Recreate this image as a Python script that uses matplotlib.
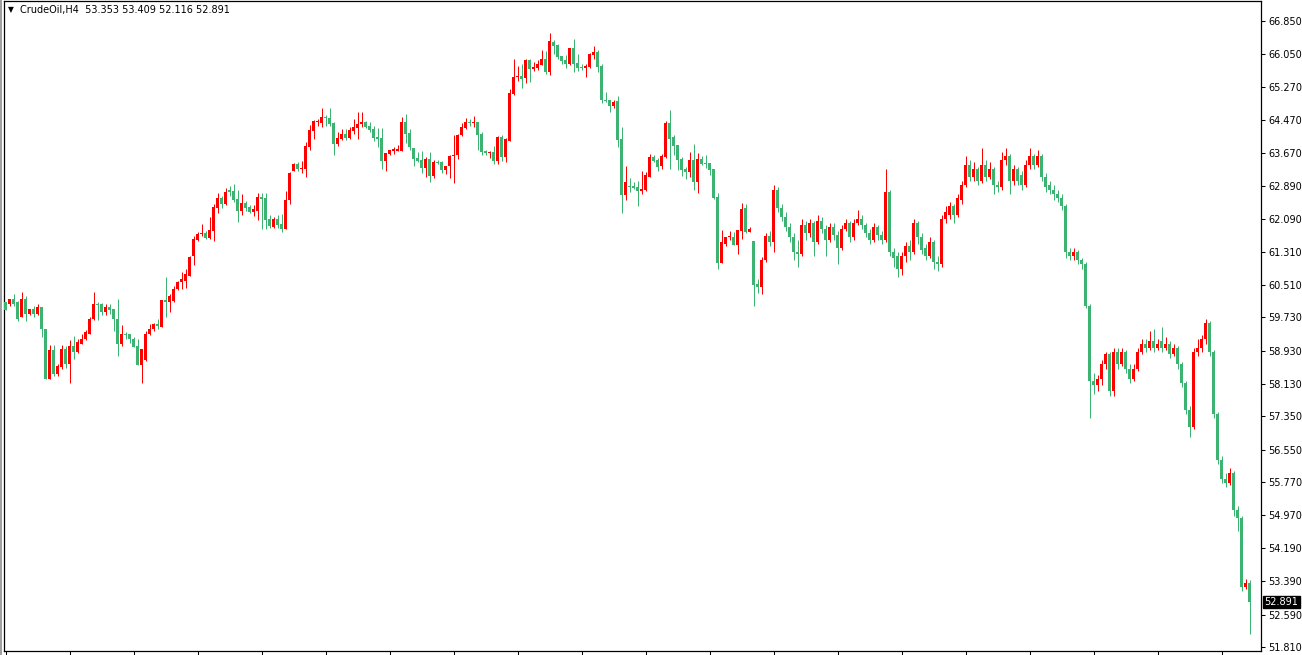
import numpy as np
import matplotlib.pyplot as plt
from matplotlib.patches import Rectangle

# OHLC, 4-hour candles, oldest first
opens = [60.09, 60.04, 60.16, 60.10, 59.74, 60.18, 59.80, 59.92, 59.82, 59.97,
         59.46, 58.26, 58.94, 58.38, 58.54, 58.96, 58.62, 59.03, 58.90, 59.10,
         59.20, 59.34, 59.68, 60.06, 60.04, 59.85, 59.99, 59.92, 59.70, 59.08,
         59.32, 59.32, 59.22, 59.03, 58.58, 58.70, 59.32, 59.44, 59.56, 59.50,
         60.14, 60.09, 60.13, 60.40, 60.57, 60.61, 60.73, 61.20, 61.60, 61.73,
         61.76, 61.64, 61.81, 62.36, 62.60, 62.46, 62.80, 62.77, 62.58, 62.29,
         62.48, 62.39, 62.27, 62.29, 62.63, 62.60, 62.10, 61.91, 62.10, 61.98,
         61.86, 62.56, 63.25, 63.42, 63.30, 63.30, 63.83, 64.21, 64.42, 64.40,
         64.55, 64.52, 64.40, 63.90, 64.02, 64.14, 64.04, 64.21, 64.28, 64.38,
         64.43, 64.33, 64.26, 64.07, 64.04, 63.49, 63.66, 63.73, 63.73, 63.73,
         64.43, 64.16, 63.80, 63.56, 63.52, 63.32, 63.54, 63.13, 63.47, 63.47,
         63.28, 63.37, 63.61, 63.64, 64.12, 64.28, 64.43, 64.40, 64.43, 64.14,
         63.73, 63.68, 63.71, 63.49, 64.07, 63.59, 63.97, 65.10, 65.51, 65.53,
         65.48, 65.91, 65.70, 65.72, 65.79, 65.94, 65.63, 66.35, 66.27, 66.01,
         65.91, 65.82, 66.20, 65.84, 65.75, 65.72, 65.75, 66.03, 66.11, 65.77,
         64.95, 64.95, 64.81, 64.93, 64.02, 62.67, 62.89, 62.89, 62.87, 62.77,
         62.79, 63.10, 63.59, 63.51, 63.37, 63.59, 64.40, 64.07, 63.88, 63.54,
         63.30, 63.23, 63.52, 62.99, 63.54, 63.44, 63.44, 63.30, 62.63, 61.04,
         61.50, 61.67, 61.67, 61.47, 61.81, 62.36, 61.79, 61.57, 60.54, 60.47,
         61.11, 61.68, 61.55, 62.80, 62.35, 62.15, 61.90, 61.65, 61.30, 61.25,
         61.95, 61.75, 62.00, 61.55, 62.05, 61.85, 61.60, 61.90, 61.70, 61.40,
         61.85, 62.00, 61.65, 62.00, 62.10, 61.95, 61.75, 61.60, 61.90, 61.70,
         61.60, 62.75, 61.30, 61.20, 60.90, 61.20, 61.45, 61.30, 62.00, 61.65,
         61.40, 61.20, 61.55, 61.05, 61.00, 62.10, 62.20, 62.40, 62.20, 62.55,
         62.90, 63.40, 63.10, 63.30, 63.00, 63.40, 63.10, 63.30, 62.90, 62.85,
         63.50, 63.60, 63.00, 63.30, 63.15, 62.90, 63.40, 63.60, 63.40, 63.60,
         63.10, 62.90, 62.80, 62.70, 62.60, 62.40, 61.30, 61.20, 61.30, 61.10,
         61.00, 60.00, 58.20, 58.10, 58.25, 58.60, 58.85, 57.95, 58.90, 58.60,
         58.90, 58.50, 58.25, 58.50, 58.90, 59.10, 59.00, 59.15, 59.00, 59.15,
         59.00, 59.10, 58.85, 59.00, 58.60, 58.15, 57.50, 57.10, 58.90, 59.00,
         59.20, 59.60, 58.90, 57.40, 56.30, 55.85, 55.75, 56.00, 55.10, 54.90,
         53.25, 53.353]
highs = [60.10, 60.18, 60.30, 60.12, 60.35, 60.24, 59.94, 60.00, 60.04, 59.97,
         59.46, 59.06, 59.06, 58.60, 59.06, 59.04, 59.18, 59.27, 59.20, 59.34,
         59.42, 59.73, 60.33, 60.11, 60.08, 60.04, 60.06, 59.92, 60.18, 59.54,
         59.38, 59.32, 59.26, 59.22, 58.96, 59.40, 59.56, 59.60, 59.68, 60.14,
         60.69, 60.30, 60.49, 60.61, 60.83, 60.90, 61.21, 61.69, 61.79, 61.98,
         61.81, 62.15, 62.46, 62.72, 62.65, 62.84, 62.89, 62.94, 62.80, 62.70,
         62.53, 62.44, 62.44, 62.72, 62.72, 62.72, 62.20, 62.15, 62.20, 62.22,
         62.77, 63.23, 63.44, 63.47, 63.49, 63.95, 64.36, 64.48, 64.50, 64.76,
         64.60, 64.76, 64.43, 64.19, 64.26, 64.26, 64.31, 64.50, 64.67, 64.67,
         64.45, 64.43, 64.33, 64.28, 64.28, 63.68, 63.76, 63.83, 63.88, 64.55,
         64.62, 64.26, 63.80, 63.71, 63.73, 63.59, 63.71, 63.52, 63.52, 63.49,
         63.37, 63.64, 64.12, 64.14, 64.40, 64.52, 64.50, 64.57, 64.43, 64.19,
         63.75, 63.73, 63.85, 64.09, 64.12, 64.04, 65.22, 65.94, 65.77, 65.82,
         65.94, 65.94, 65.87, 65.91, 66.15, 66.13, 66.56, 66.39, 66.30, 66.01,
         66.03, 66.20, 66.42, 66.06, 65.82, 65.82, 66.08, 66.25, 66.15, 65.82,
         65.15, 64.95, 64.95, 65.05, 64.31, 63.37, 63.08, 62.99, 63.01, 63.25,
         63.23, 63.66, 63.63, 63.56, 63.66, 64.45, 64.71, 64.12, 63.88, 63.59,
         63.35, 63.71, 63.90, 63.68, 63.61, 63.64, 63.44, 63.30, 62.72, 61.83,
         61.67, 61.81, 61.79, 61.83, 62.48, 62.46, 61.91, 61.57, 60.64, 61.19,
         61.75, 61.80, 62.90, 62.85, 62.45, 62.25, 62.00, 61.75, 61.60, 62.10,
         62.05, 62.10, 62.05, 62.20, 62.15, 61.95, 62.00, 62.00, 61.80, 61.95,
         62.10, 62.05, 62.10, 62.30, 62.20, 62.00, 61.85, 62.00, 61.95, 61.80,
         63.30, 62.80, 61.40, 61.30, 61.30, 61.55, 61.60, 62.10, 62.05, 61.75,
         61.50, 61.65, 61.60, 61.20, 62.20, 62.40, 62.50, 62.45, 62.70, 63.00,
         63.60, 63.50, 63.45, 63.35, 63.80, 63.50, 63.45, 63.35, 63.00, 63.70,
         63.80, 63.65, 63.40, 63.35, 63.25, 63.50, 63.80, 63.65, 63.75, 63.65,
         63.20, 63.00, 62.90, 62.80, 62.70, 62.45, 61.40, 61.40, 61.35, 61.15,
         61.05, 60.05, 58.40, 58.35, 58.70, 58.90, 58.90, 59.00, 59.00, 59.00,
         58.95, 58.60, 58.60, 59.00, 59.20, 59.20, 59.40, 59.45, 59.20, 59.50,
         59.25, 59.15, 59.10, 59.05, 58.65, 58.20, 57.60, 59.00, 59.20, 59.30,
         59.70, 59.65, 58.95, 57.45, 56.40, 56.00, 56.10, 56.05, 55.20, 54.95,
         53.45, 53.409]
lows = [59.90, 60.00, 60.00, 59.64, 59.74, 59.64, 59.78, 59.74, 59.78, 59.26,
        58.25, 58.25, 58.32, 58.32, 58.50, 58.52, 58.15, 58.72, 58.88, 59.08,
        59.18, 59.32, 59.66, 59.66, 59.78, 59.78, 59.80, 59.40, 58.80, 59.04,
        59.20, 59.12, 59.01, 58.58, 58.15, 58.68, 59.30, 59.40, 59.44, 59.50,
        59.74, 59.86, 60.09, 60.38, 60.40, 60.44, 60.73, 60.99, 61.57, 61.69,
        61.62, 61.62, 61.57, 62.24, 62.36, 62.44, 62.65, 62.51, 62.03, 62.20,
        62.29, 62.24, 62.17, 62.08, 61.86, 61.86, 61.88, 61.88, 61.88, 61.79,
        61.86, 62.46, 63.25, 63.25, 63.20, 63.11, 63.76, 64.02, 64.33, 64.31,
        64.33, 64.33, 63.64, 63.85, 63.99, 63.99, 64.02, 64.14, 64.02, 64.31,
        64.28, 64.19, 63.97, 63.83, 63.30, 63.25, 63.64, 63.66, 63.73, 63.73,
        63.92, 63.76, 63.37, 63.47, 63.20, 63.11, 62.99, 63.08, 63.42, 63.20,
        63.18, 63.08, 62.96, 63.54, 64.09, 64.26, 64.33, 64.31, 63.75, 63.63,
        63.63, 63.56, 63.42, 63.42, 63.49, 63.47, 63.97, 65.07, 65.41, 65.24,
        65.36, 65.39, 65.65, 65.67, 65.79, 65.58, 65.55, 66.06, 65.94, 65.82,
        65.72, 65.79, 65.63, 65.65, 65.67, 65.51, 65.72, 65.94, 65.63, 64.88,
        64.91, 64.67, 64.76, 63.83, 62.24, 62.55, 62.75, 62.82, 62.41, 62.70,
        62.77, 63.10, 63.47, 63.25, 63.30, 63.56, 63.30, 63.64, 63.28, 63.13,
        63.06, 63.11, 62.80, 62.72, 63.40, 63.32, 63.16, 62.58, 60.90, 61.04,
        61.45, 61.59, 61.47, 61.26, 61.62, 61.76, 61.79, 60.01, 60.32, 60.28,
        61.05, 61.45, 61.30, 62.25, 62.05, 61.80, 61.55, 61.10, 60.95, 61.20,
        61.60, 61.65, 61.20, 61.50, 61.75, 61.20, 61.55, 61.60, 61.00, 61.35,
        61.80, 61.55, 61.60, 61.95, 61.85, 61.65, 61.50, 61.55, 61.60, 61.50,
        61.55, 61.20, 60.95, 60.70, 60.75, 61.05, 61.10, 61.25, 61.50, 61.25,
        61.10, 61.15, 60.90, 60.85, 60.95, 62.00, 62.10, 62.00, 62.15, 62.45,
        62.85, 63.00, 63.00, 62.90, 62.95, 63.00, 63.05, 62.70, 62.75, 62.80,
        63.40, 62.70, 62.90, 62.90, 62.80, 62.85, 63.30, 63.30, 63.35, 63.00,
        62.75, 62.70, 62.55, 62.50, 62.30, 61.15, 61.10, 61.10, 61.00, 60.90,
        59.95, 57.30, 57.90, 57.95, 58.10, 58.50, 57.85, 57.85, 58.50, 58.55,
        58.40, 58.15, 58.20, 58.45, 58.85, 58.90, 58.95, 58.90, 58.95, 58.90,
        58.95, 58.75, 58.80, 58.50, 58.05, 57.40, 56.85, 57.05, 58.80, 58.90,
        59.10, 58.80, 57.30, 56.20, 55.75, 55.65, 55.70, 54.95, 54.60, 53.15,
        53.20, 52.116]
closes = [59.90, 60.16, 60.06, 59.70, 60.18, 59.80, 59.92, 59.82, 59.97, 59.44,
          58.25, 58.94, 58.38, 58.55, 58.96, 58.62, 59.03, 58.90, 59.13, 59.22,
          59.37, 59.70, 60.06, 60.02, 59.85, 59.99, 59.90, 59.68, 59.08, 59.32,
          59.30, 59.20, 59.01, 58.58, 58.96, 59.34, 59.46, 59.56, 59.52, 60.14,
          60.09, 60.25, 60.42, 60.59, 60.64, 60.76, 61.19, 61.62, 61.74, 61.76,
          61.64, 61.84, 62.39, 62.60, 62.46, 62.75, 62.73, 62.56, 62.29, 62.48,
          62.36, 62.27, 62.34, 62.63, 62.58, 62.08, 61.93, 62.10, 61.96, 61.86,
          62.56, 63.20, 63.42, 63.30, 63.32, 63.85, 64.24, 64.45, 64.43, 64.55,
          64.52, 64.38, 63.90, 64.04, 64.14, 64.04, 64.24, 64.31, 64.38, 64.43,
          64.31, 64.24, 64.04, 64.02, 63.49, 63.68, 63.76, 63.78, 63.78, 64.43,
          64.14, 63.83, 63.54, 63.49, 63.32, 63.54, 63.13, 63.47, 63.44, 63.28,
          63.37, 63.61, 63.64, 64.12, 64.31, 64.43, 64.40, 64.43, 64.12, 63.71,
          63.68, 63.71, 63.49, 64.07, 63.59, 64.02, 65.12, 65.51, 65.53, 65.46,
          65.91, 65.70, 65.75, 65.82, 65.94, 65.63, 66.37, 66.25, 65.99, 65.89,
          65.82, 66.20, 65.82, 65.72, 65.72, 65.77, 66.06, 66.11, 65.75, 64.95,
          64.93, 64.81, 64.91, 63.99, 62.67, 62.99, 62.87, 62.84, 62.77, 62.82,
          63.15, 63.59, 63.49, 63.35, 63.61, 64.40, 64.02, 63.85, 63.52, 63.28,
          63.23, 63.52, 62.99, 63.54, 63.42, 63.42, 63.28, 62.60, 61.04, 61.54,
          61.67, 61.69, 61.47, 61.83, 62.34, 61.79, 61.86, 60.51, 60.47, 61.11,
          61.68, 61.55, 62.80, 62.35, 62.15, 61.90, 61.65, 61.30, 61.25, 61.95,
          61.75, 62.00, 61.55, 62.05, 61.85, 61.60, 61.90, 61.70, 61.40, 61.85,
          62.00, 61.65, 62.00, 62.10, 61.95, 61.75, 61.60, 61.90, 61.70, 61.60,
          62.75, 61.30, 61.15, 60.90, 61.20, 61.45, 61.30, 62.00, 61.65, 61.35,
          61.20, 61.55, 61.05, 61.00, 62.10, 62.25, 62.40, 62.20, 62.60, 62.90,
          63.40, 63.10, 63.30, 63.00, 63.40, 63.10, 63.30, 62.90, 62.85, 63.50,
          63.60, 63.00, 63.30, 63.00, 62.90, 63.40, 63.60, 63.40, 63.60, 63.10,
          62.85, 62.80, 62.70, 62.60, 62.40, 61.30, 61.20, 61.30, 61.10, 61.00,
          60.00, 58.20, 58.10, 58.25, 58.60, 58.85, 57.95, 58.90, 58.60, 58.90,
          58.50, 58.25, 58.50, 58.90, 59.10, 59.00, 59.15, 59.00, 59.10, 59.00,
          59.10, 58.85, 59.00, 58.60, 58.15, 57.50, 57.10, 58.90, 59.00, 59.20,
          59.60, 58.90, 57.40, 56.30, 55.85, 55.75, 56.00, 55.10, 54.90, 53.25,
          53.35, 52.891]

price_ticks = [66.850, 66.050, 65.270, 64.470, 63.670, 62.890, 62.090, 61.310,
               60.510, 59.730, 58.930, 58.130, 57.350, 56.550, 55.770, 54.970,
               54.190, 53.390, 52.590, 51.810]
last_price = 52.891
header = 'CrudeOil,H4  53.353 53.409 52.116 52.891'

W, H = 1302, 655
PX = 41.69  # pixels per price unit
fig = plt.figure(figsize=(W / 100, H / 100), dpi=100)
ax = fig.add_axes([4 / W, 1 - 651 / H, (1261 - 4) / W, (651 - 1) / H])

o = np.array(opens)
h = np.array(highs)
l = np.array(lows)
c = np.array(closes)
x = np.arange(len(o))

up = c >= o
col = np.where(up, '#ff0000', '#3cb371')

# wicks first, bodies on top
ax.vlines(x, l, h, colors=col, linewidth=0.72, zorder=2)
bottom = np.minimum(o, c)
height = np.maximum(np.abs(c - o), 1.0 / PX)
ax.bar(x, height, bottom=bottom, width=0.75, color=col, linewidth=0, zorder=3)

ax.set_xlim(-0.375, 313.875)
ax.set_ylim(66.85 - 631 / PX, 66.85 + 20 / PX)

ax.yaxis.tick_right()
ax.set_yticks(price_ticks)
ax.set_yticklabels([f'{p:.3f}' for p in price_ticks])
ax.tick_params(axis='y', direction='out', length=3, width=0.75, pad=2,
               labelsize=7, colors='black')
ax.set_xticks(np.arange(0, 314, 16))
ax.set_xticklabels([])
ax.tick_params(axis='x', direction='out', length=3, width=0.75)
for s in ax.spines.values():
    s.set_linewidth(0.9)
    s.set_color('black')

ax.annotate(f'{last_price:.3f}', xy=(1.0, last_price),
            xycoords=('axes fraction', 'data'), xytext=(2.5, 0),
            textcoords='offset points', va='center', ha='left',
            fontsize=7, color='white',
            bbox=dict(boxstyle='square,pad=0.15', fc='black', ec='black'))

fig.text(8 / W, 1 - 10 / H, '\u25bc', fontsize=5.5, va='center', ha='left')
fig.text(20 / W, 1 - 10 / H, header, fontsize=7, va='center', ha='left')
fig.patches.append(Rectangle((0, 0), 2 / W, 1, transform=fig.transFigure,
                             fc='#a0a0a0', ec='none'))

fig.savefig('out.png', dpi=100)
